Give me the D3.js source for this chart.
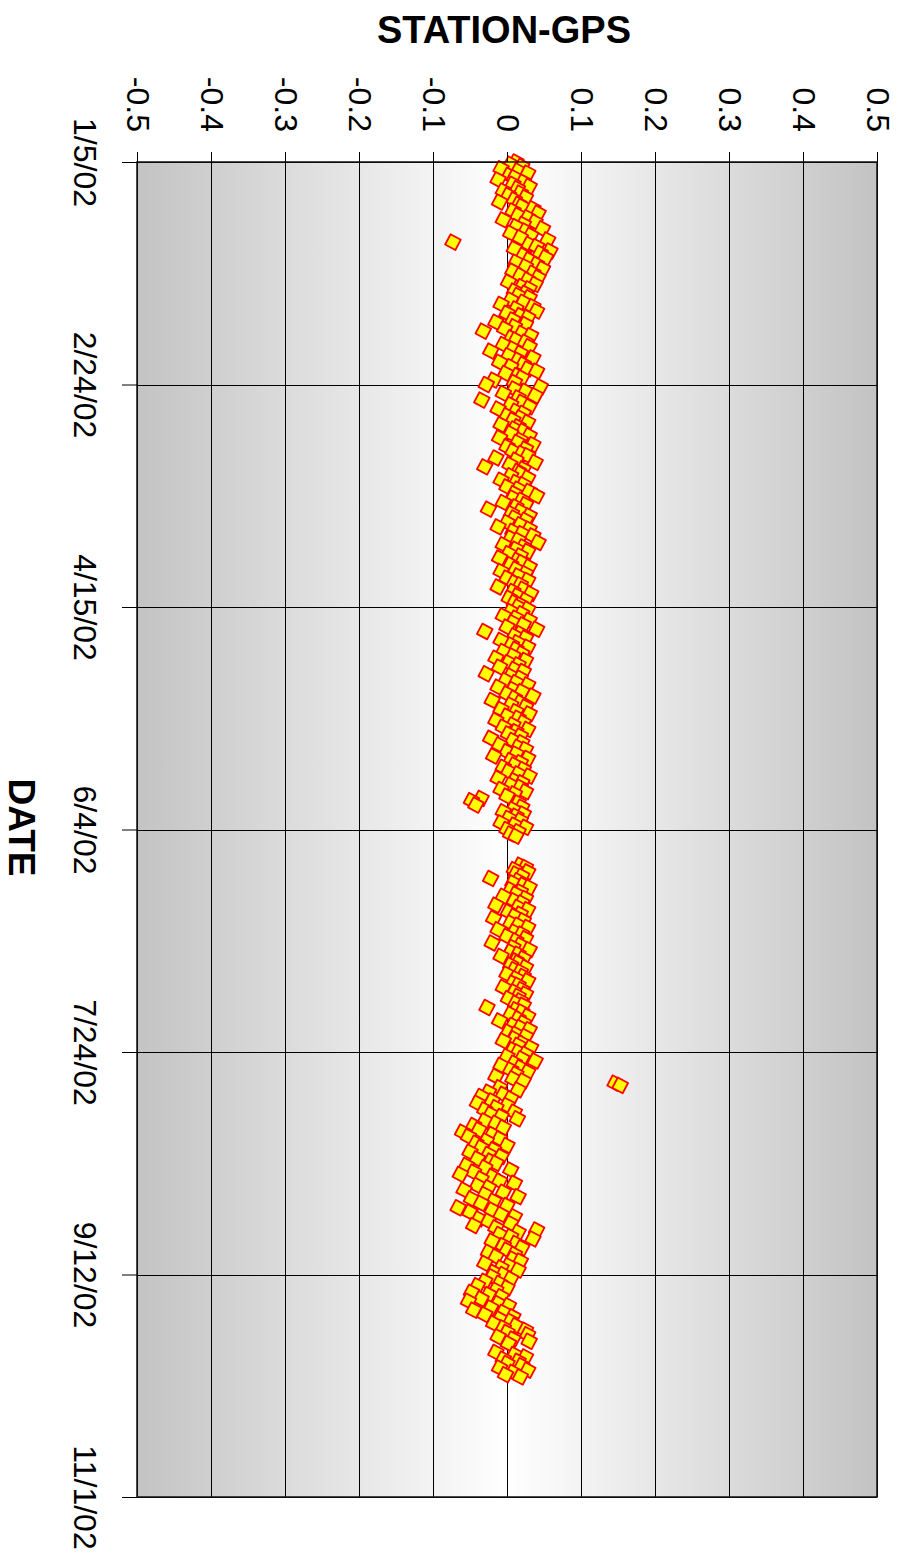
<!DOCTYPE html>
<html lang="en">
<head>
    <meta charset="UTF-8">
    <title>STATION-GPS</title>
    <script src="https://d3js.org/d3.v7.min.js"></script>
    <style>
        body { margin: 0; background: #fff; }
        text { font-family: "Liberation Sans", Arial, sans-serif; fill: #000; }
    </style>
</head>
<body>
    <div id="chart"></div>

    <script>
        // chart data
        const chartTitle = "STATION-GPS";
        const dateAxisTitle = "DATE";
        const startDate = "2002-01-05";     // first sample
        const sampleStepDays = 0.5;          // two fixes per day
        const dateTicks = ["2002-01-05", "2002-02-24", "2002-04-15", "2002-06-04",
                           "2002-07-24", "2002-09-12", "2002-11-01"];
        const valueTicks = [-0.5, -0.4, -0.3, -0.2, -0.1, 0, 0.1, 0.2, 0.3, 0.4, 0.5];

        // offsets in millimetres, one per half day, null = no fix
        const gpsOffsetMm = [
            12, 5, 20, -8, 15, 28, 3, 10, -12, 22, 8, 30, 14, -5, 18, 2, 25, 10, -10, 16,
            20, 35, 8, 42, 15, 28, -5, 38, 22, 12, 48, 25, 5, 32, 18, 55, -73, 30, 40, 10,
            58, 45, 22, 52, 30, 12, 40, 25, 48, 8, 35, 18, 42, 28, 2, 38, 20, 30, 10, 25,
            15, 30, 5, 22, -8, 35, 12, 40, 0, 18, 28, 8, -15, 25, 10, -3, -32, 20, 32, 6,
            12, 25, -5, 30, 8, -22, 18, 2, 35, 15, -10, 22, 5, 28, 40, -2, 14, 20, -18, 10,
            -28, 45, 10, 25, -5, 38, 15, -34, 20, 5, 30, -12, 12, 22, 0, 18, 8, 28, -8, 15,
            10, 22, 5, 30, -10, 18, 14, 35, 0, 25, 8, 20, 28, -15, 12, 38, 4, -30, 22, 15,
            18, 5, 28, -8, 12, 22, 0, 15, 30, 10, 40, 8, 20, -5, 25, 12, -25, 18, 6, 30,
            10, 25, 0, 18, -12, 30, 8, 20, 35, 5, 15, 42, -5, 22, 12, 28, 2, 18, -10, 14,
            20, 5, 30, 12, -8, 25, 15, 0, 28, 10, 18, -12, 22, 8, 32, 14, 3, 25, 10, 18,
            15, 28, 5, 20, -5, 12, 30, 8, 22, 0, 40, -30, 18, 10, 25, -8, 14, 6, 28, 12,
            -5, 20, 8, -15, 25, 2, 15, -10, 10, 22, -28, 5, 18, -2, 12, 28, -12, 8, 20, 0,
            35, 10, -20, 18, 5, 25, -8, 12, 30, 0, 15, -15, 22, 8, -5, 28, 12, 2, 18, -22,
            8, 20, -10, 15, 25, 0, 12, -18, 28, 5, 18, 10, -5, 22, 2, 15, 30, -12, 10, 20,
            5, 18, -8, 25, 10, 0, -35, -48, 15, -42, 20, 8, -5, 22, 12, 2, 18, -8, 10, 25, 0, 15, 5, 12,
            null, null, null, null, null, null, null, null, null, null, null, null,
            18, 25, 10, 28, 12, 20, -22, 15, 8, 22, 30, 5, 18, 12, -5, 25, 10, 20, -15, 15, 28, 2, 18, 10,
            -18, 22, 5, 15, 28, -12, 10, 20, 0, 25, 12, -20, 18, 8, 30, 5, 15, -8, 22, 12,
            15, 5, 25, 10, 18, 0, 22, 12, 28, 8, 15, -5, 20, 10, 25, 15, 2, 18, 12, 22,
            -27, 12, 20, 5, 28, 15, -10, 22, 8, 18, 30, 2, 12, 25, 10, -5, 20, 15, 32, 8,
            15, 25, 0, 20, 38, 10, -8, 18, 5, 28, 12, -15, 8, 22,
            146, 153,
            -10, 15, -25, -5, -35, 5, -20, -40, 0, -15, -30, 10, -22, -8,
            14, -30, -15, -45, -5, -38, -60, -20, -52, -10, -28, -42, 0, -35, -18, -50, -25, -8, -40, -22,
            -15, -55, -30, 5, -45, -63, -20, -35, -10, 10, -40, -25, -58, -5, -30, 15, -48, -18, -35, 0,
            -66, -20, -50, -8, 10, -38, -25, 5, -45, -15,
            40, 15, -10, 5, 35, -20, 12, -5, 20, 0, -25, 10, -15, 8, 18, -30, 2, -8, 15, -18,
            -5, -20, 5, -30, -10, -40, 0, -15, -48, -25, -8, -35, -52, -12, 2, -22, -45, -5, -30, 8,
            -10, 5, -18, 12, -5, 25, 0, 28, -12, 8, 30, 2,
            null, null, null,
            -15, 10, 25, -5, 15, 0, 20, -10, 28, 8, -2, 18
        ];

        const width = 898;
        const height = 1564;
        const margin = { top: 162, right: 21, bottom: 67, left: 137 };
        const plotW = width - margin.left - margin.right;
        const plotH = height - margin.top - margin.bottom;

        const parseDate = d3.utcParse("%Y-%m-%d");
        const fmtDate = d3.utcFormat("%-m/%-d/%y");
        const t0 = parseDate(startDate);

        const points = gpsOffsetMm
            .map((v, i) => ({ date: d3.utcHour.offset(t0, i * sampleStepDays * 24), value: v == null ? null : v / 1000 }))
            .filter(d => d.value != null);

        const tickDates = dateTicks.map(parseDate);

        // the chart is drawn "on its side": values across, dates down
        const x = d3.scaleLinear().domain([-0.5, 0.5]).range([0, plotW]);
        const y = d3.scaleUtc().domain([tickDates[0], tickDates[tickDates.length - 1]]).range([0, plotH]);

        const svg = d3.select("#chart")
            .append("svg")
            .attr("width", width)
            .attr("height", height);

        const grad = svg.append("defs").append("linearGradient")
            .attr("id", "bg")
            .attr("x1", "0%").attr("x2", "100%").attr("y1", "0%").attr("y2", "0%");
        grad.append("stop").attr("offset", "0%").attr("stop-color", "#c3c3c3");
        grad.append("stop").attr("offset", "50%").attr("stop-color", "#ffffff");
        grad.append("stop").attr("offset", "100%").attr("stop-color", "#c3c3c3");

        const g = svg.append("g").attr("transform", `translate(${margin.left},${margin.top})`);

        g.append("rect")
            .attr("width", plotW)
            .attr("height", plotH)
            .attr("fill", "url(#bg)");

        // grid
        g.selectAll(".vgrid")
            .data(valueTicks)
            .join("line")
            .attr("x1", d => Math.round(x(d)) + 0.5).attr("x2", d => Math.round(x(d)) + 0.5)
            .attr("y1", 0).attr("y2", plotH)
            .attr("stroke", "#000")
            .attr("stroke-width", 1);

        g.selectAll(".hgrid")
            .data(tickDates)
            .join("line")
            .attr("x1", 0).attr("x2", plotW)
            .attr("y1", d => Math.round(y(d)) + 0.5).attr("y2", d => Math.round(y(d)) + 0.5)
            .attr("stroke", "#000")
            .attr("stroke-width", 1);

        // points
        const marker = d3.symbol().type(d3.symbolSquare).size(135);
        g.selectAll(".pt")
            .data(points)
            .join("path")
            .attr("d", marker)
            .attr("transform", d => `translate(${x(d.value)},${y(d.date)}) rotate(28)`)
            .attr("fill", "#ffff00")
            .attr("stroke", "#ff0000")
            .attr("stroke-width", 1.8)
            .attr("stroke-linejoin", "round");

        // frame
        g.append("rect")
            .attr("width", plotW)
            .attr("height", plotH)
            .attr("fill", "none")
            .attr("stroke", "#111")
            .attr("stroke-width", 1.5);

        // value axis along the top
        const xAxis = g.append("g")
            .call(d3.axisTop(x).tickValues(valueTicks).tickSize(10).tickFormat(d => String(d)));
        xAxis.select(".domain").remove();
        xAxis.selectAll("line").attr("stroke", "#000");
        xAxis.selectAll("text")
            .attr("y", 0).attr("dy", null)
            .attr("transform", "translate(0,-30) rotate(90)")
            .attr("text-anchor", "end")
            .attr("dominant-baseline", "central")
            .style("font-size", "32px")
            .style("font-family", "'Liberation Sans', Arial, sans-serif");

        // date axis along the left
        const yAxis = g.append("g")
            .call(d3.axisLeft(y).tickValues(tickDates).tickSize(15).tickFormat(fmtDate));
        yAxis.select(".domain").remove();
        yAxis.selectAll("line").attr("stroke", "#000");
        yAxis.selectAll("text")
            .attr("x", 0).attr("dy", null)
            .attr("transform", "translate(-52,0) rotate(90)")
            .attr("text-anchor", "middle")
            .attr("dominant-baseline", "central")
            .style("font-size", "32px")
            .style("font-family", "'Liberation Sans', Arial, sans-serif");

        // titles
        svg.append("text")
            .attr("x", margin.left + plotW / 2 - 3)
            .attr("y", 43)
            .attr("text-anchor", "middle")
            .style("font-size", "38px")
            .style("font-weight", "bold")
            .text(chartTitle);

        svg.append("text")
            .attr("transform", `translate(21,${margin.top + plotH / 2 - 2}) rotate(90)`)
            .attr("text-anchor", "middle")
            .attr("dominant-baseline", "central")
            .style("font-size", "37px")
            .style("font-weight", "bold")
            .text(dateAxisTitle);
    </script>
</body>
</html>
